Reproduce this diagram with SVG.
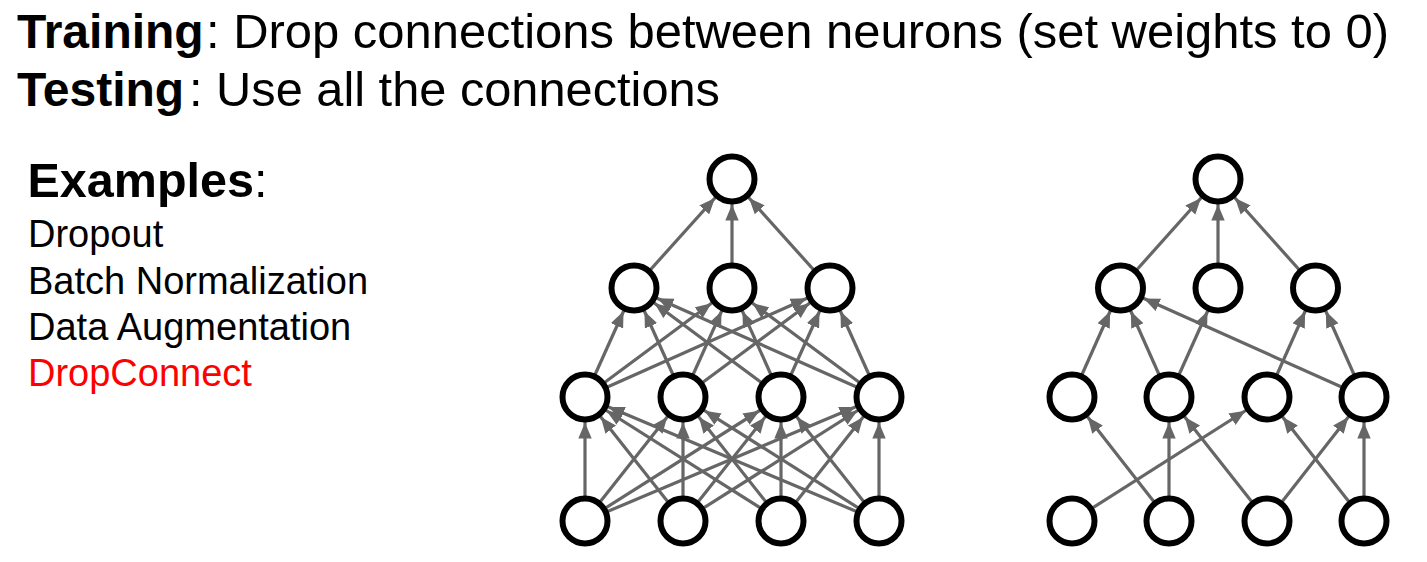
<svg xmlns="http://www.w3.org/2000/svg" width="1427" height="562" viewBox="0 0 1427 562">
  <style>
    .t { font-family: "Liberation Sans", Arial, sans-serif; fill: #000; }
    .b { font-weight: bold; }
    .c { stroke: #666666; stroke-width: 3.2; fill: none; marker-end: url(#ah); }
    .n { fill: #ffffff; stroke: #000000; stroke-width: 6; }
  </style>
  <defs>
    <!-- arrowhead whose tip sits on the rim of a node when the line ends at the node centre -->
    <marker id="ah" markerUnits="userSpaceOnUse" markerWidth="44" markerHeight="14" refX="41.5" refY="7" orient="auto">
      <path d="M0,0.3 L16,7 L0,13.7 z" fill="#666666"/>
    </marker>
  </defs>

  <!-- heading -->
  <g id="heading">
    <text class="t b" x="17" y="48" font-size="48">Training</text>
    <text class="t" x="206" y="48" font-size="48" textLength="1183" lengthAdjust="spacingAndGlyphs">: Drop connections between neurons (set weights to 0)</text>
    <text class="t b" x="17" y="106" font-size="48">Testing</text>
    <text class="t" x="189" y="106" font-size="48" textLength="531" lengthAdjust="spacingAndGlyphs">: Use all the connections</text>
  </g>

  <!-- examples list -->
  <g id="examples">
    <text class="t b" x="27.5" y="197" font-size="48.5">Examples<tspan font-weight="normal">:</tspan></text>
    <text class="t" x="28" y="247" font-size="38">Dropout</text>
    <text class="t" x="28" y="294" font-size="38">Batch Normalization</text>
    <text class="t" x="28" y="340" font-size="38">Data Augmentation</text>
    <text class="t" x="28" y="386" font-size="38" style="fill:#ff0000">DropConnect</text>
  </g>

  <!-- connectors: fully connected network (left) -->
  <g id="connectors-full">
    <line class="c" x1="634" y1="288" x2="732" y2="179"/>
    <line class="c" x1="732" y1="288" x2="732" y2="179"/>
    <line class="c" x1="830" y1="288" x2="732" y2="179"/>

    <line class="c" x1="585" y1="397" x2="634" y2="288"/>
    <line class="c" x1="683" y1="397" x2="634" y2="288"/>
    <line class="c" x1="781" y1="397" x2="634" y2="288"/>
    <line class="c" x1="879" y1="397" x2="634" y2="288"/>
    <line class="c" x1="585" y1="397" x2="732" y2="288"/>
    <line class="c" x1="683" y1="397" x2="732" y2="288"/>
    <line class="c" x1="781" y1="397" x2="732" y2="288"/>
    <line class="c" x1="879" y1="397" x2="732" y2="288"/>
    <line class="c" x1="585" y1="397" x2="830" y2="288"/>
    <line class="c" x1="683" y1="397" x2="830" y2="288"/>
    <line class="c" x1="781" y1="397" x2="830" y2="288"/>
    <line class="c" x1="879" y1="397" x2="830" y2="288"/>

    <line class="c" x1="585" y1="521" x2="585" y2="397"/>
    <line class="c" x1="683" y1="521" x2="585" y2="397"/>
    <line class="c" x1="781" y1="521" x2="585" y2="397"/>
    <line class="c" x1="879" y1="521" x2="585" y2="397"/>
    <line class="c" x1="585" y1="521" x2="683" y2="397"/>
    <line class="c" x1="683" y1="521" x2="683" y2="397"/>
    <line class="c" x1="781" y1="521" x2="683" y2="397"/>
    <line class="c" x1="879" y1="521" x2="683" y2="397"/>
    <line class="c" x1="585" y1="521" x2="781" y2="397"/>
    <line class="c" x1="683" y1="521" x2="781" y2="397"/>
    <line class="c" x1="781" y1="521" x2="781" y2="397"/>
    <line class="c" x1="879" y1="521" x2="781" y2="397"/>
    <line class="c" x1="585" y1="521" x2="879" y2="397"/>
    <line class="c" x1="683" y1="521" x2="879" y2="397"/>
    <line class="c" x1="781" y1="521" x2="879" y2="397"/>
    <line class="c" x1="879" y1="521" x2="879" y2="397"/>
  </g>

  <!-- connectors: network with dropped connections (right) -->
  <g id="connectors-dropped">
    <line class="c" x1="1120.5" y1="288" x2="1218" y2="179"/>
    <line class="c" x1="1218" y1="288" x2="1218" y2="179"/>
    <line class="c" x1="1315.5" y1="288" x2="1218" y2="179"/>

    <line class="c" x1="1072" y1="397" x2="1120.5" y2="288"/>
    <line class="c" x1="1169" y1="397" x2="1120.5" y2="288"/>
    <line class="c" x1="1364" y1="397" x2="1120.5" y2="288"/>
    <line class="c" x1="1169" y1="397" x2="1218" y2="288"/>
    <line class="c" x1="1267" y1="397" x2="1315.5" y2="288"/>
    <line class="c" x1="1364" y1="397" x2="1315.5" y2="288"/>

    <line class="c" x1="1169" y1="521" x2="1072" y2="397"/>
    <line class="c" x1="1169" y1="521" x2="1169" y2="397"/>
    <line class="c" x1="1267" y1="521" x2="1169" y2="397"/>
    <line class="c" x1="1072" y1="521" x2="1267" y2="397"/>
    <line class="c" x1="1364" y1="521" x2="1267" y2="397"/>
    <line class="c" x1="1267" y1="521" x2="1364" y2="397"/>
    <line class="c" x1="1364" y1="521" x2="1364" y2="397"/>
  </g>

  <!-- nodes: left network -->
  <g id="L-out"><circle class="n" cx="732" cy="179" r="22.5"/></g>
  <g id="L-h2-1"><circle class="n" cx="634" cy="288" r="22.5"/></g>
  <g id="L-h2-2"><circle class="n" cx="732" cy="288" r="22.5"/></g>
  <g id="L-h2-3"><circle class="n" cx="830" cy="288" r="22.5"/></g>
  <g id="L-h1-1"><circle class="n" cx="585" cy="397" r="22.5"/></g>
  <g id="L-h1-2"><circle class="n" cx="683" cy="397" r="22.5"/></g>
  <g id="L-h1-3"><circle class="n" cx="781" cy="397" r="22.5"/></g>
  <g id="L-h1-4"><circle class="n" cx="879" cy="397" r="22.5"/></g>
  <g id="L-in-1"><circle class="n" cx="585" cy="521" r="22.5"/></g>
  <g id="L-in-2"><circle class="n" cx="683" cy="521" r="22.5"/></g>
  <g id="L-in-3"><circle class="n" cx="781" cy="521" r="22.5"/></g>
  <g id="L-in-4"><circle class="n" cx="879" cy="521" r="22.5"/></g>

  <!-- nodes: right network -->
  <g id="R-out"><circle class="n" cx="1218" cy="179" r="22.5"/></g>
  <g id="R-h2-1"><circle class="n" cx="1120.5" cy="288" r="22.5"/></g>
  <g id="R-h2-2"><circle class="n" cx="1218" cy="288" r="22.5"/></g>
  <g id="R-h2-3"><circle class="n" cx="1315.5" cy="288" r="22.5"/></g>
  <g id="R-h1-1"><circle class="n" cx="1072" cy="397" r="22.5"/></g>
  <g id="R-h1-2"><circle class="n" cx="1169" cy="397" r="22.5"/></g>
  <g id="R-h1-3"><circle class="n" cx="1267" cy="397" r="22.5"/></g>
  <g id="R-h1-4"><circle class="n" cx="1364" cy="397" r="22.5"/></g>
  <g id="R-in-1"><circle class="n" cx="1072" cy="521" r="22.5"/></g>
  <g id="R-in-2"><circle class="n" cx="1169" cy="521" r="22.5"/></g>
  <g id="R-in-3"><circle class="n" cx="1267" cy="521" r="22.5"/></g>
  <g id="R-in-4"><circle class="n" cx="1364" cy="521" r="22.5"/></g>
</svg>
